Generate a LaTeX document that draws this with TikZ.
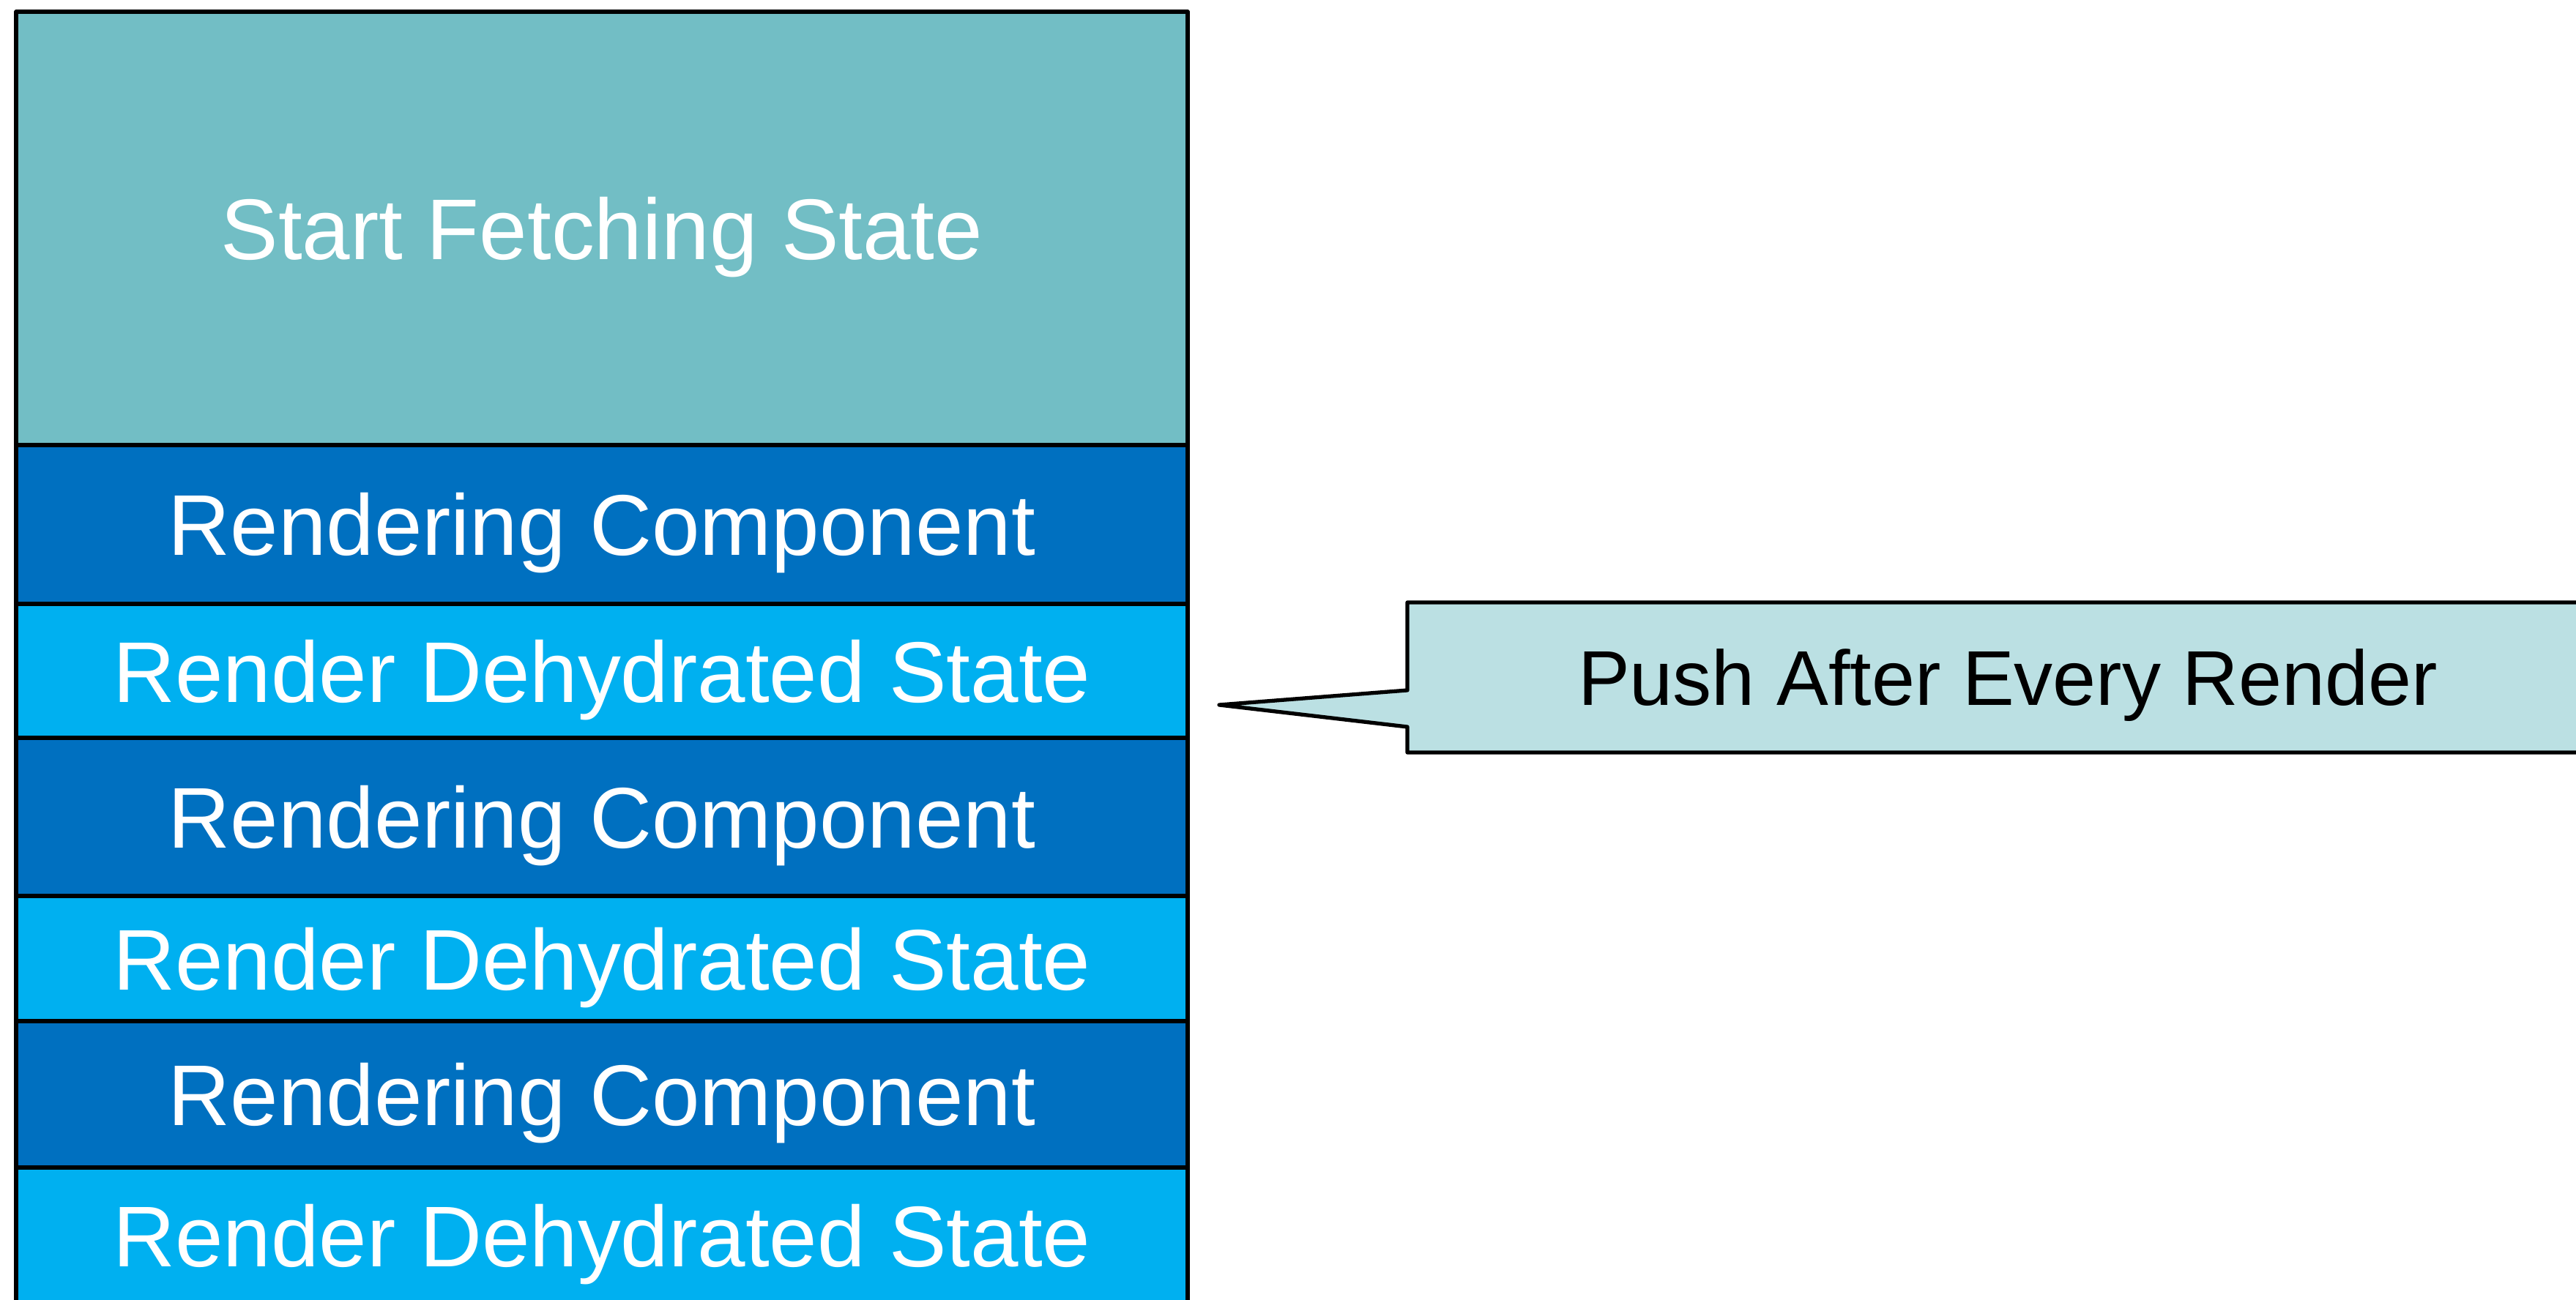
\documentclass[tikz,border=0pt]{standalone}
\usepackage{fontspec}
\setmainfont{Liberation Sans}
\usetikzlibrary{positioning}
\definecolor{stTeal}{HTML}{72BEC5}
\definecolor{stBlueD}{HTML}{0070C0}
\definecolor{stBlueL}{HTML}{00B0F0}
\definecolor{stNote}{HTML}{BBE0E3}
\tikzset{
  st-box/.style={
    draw=black, line width=1.5pt, line join=round, text=white,
    font=\fontsize{33.5}{40}\selectfont, minimum width=16cm,
    outer sep=0pt, inner sep=0pt, text height=0.85cm, text depth=0pt
  },
  st-fetch/.style={st-box, fill=stTeal, minimum height=5.92cm},
  st-comp/.style={st-box, fill=stBlueD},
  st-dehy/.style={st-box, fill=stBlueL},
  st-note/.style={
    fill=stNote, font=\fontsize{30.2}{36}\selectfont,
    minimum width=16.4cm, minimum height=2.05cm,
    outer sep=0pt, inner sep=0pt, text height=0.77cm, text depth=0pt
  },
  st-line/.style={draw=black, line width=1.5pt, line join=round}
}
\begin{document}
\begin{tikzpicture}[node distance=0pt]
\useasboundingbox (0,0) rectangle (35.18,-17.76);
\clip (0,0) rectangle (35.18,-17.76);

\node[st-fetch, anchor=north west] (fetch) at (0.22,-0.16)
  {Start Fetching State};
\node[st-comp, minimum height=2.17cm, below=of fetch] (comp1)
  {Rendering Component};
\node[st-dehy, minimum height=1.83cm, below=of comp1] (dehy1)
  {Render Dehydrated State};
\node[st-comp, minimum height=2.16cm, below=of dehy1] (comp2)
  {Rendering Component};
\node[st-dehy, minimum height=1.71cm, below=of comp2] (dehy2)
  {Render Dehydrated State};
\node[st-comp, minimum height=2.00cm, below=of dehy2] (comp3)
  {Rendering Component};
\node[st-dehy, minimum height=1.85cm, below=of comp3] (dehy3)
  {Render Dehydrated State};

% callout
\node[st-note, anchor=north west] (push) at (19.22,-8.23)
  {Push After Every Render};
\coordinate (tip) at (16.65,-9.63);
\fill[stNote] ([yshift=-1.2cm]push.north west) -- (tip)
  -- ([yshift=-1.7cm]push.north west) -- cycle;
\draw[st-line] (push.north east) -- (push.north west)
  -- ([yshift=-1.2cm]push.north west) -- (tip)
  -- ([yshift=-1.7cm]push.north west) -- (push.south west)
  -- (push.south east);
\end{tikzpicture}
\end{document}
